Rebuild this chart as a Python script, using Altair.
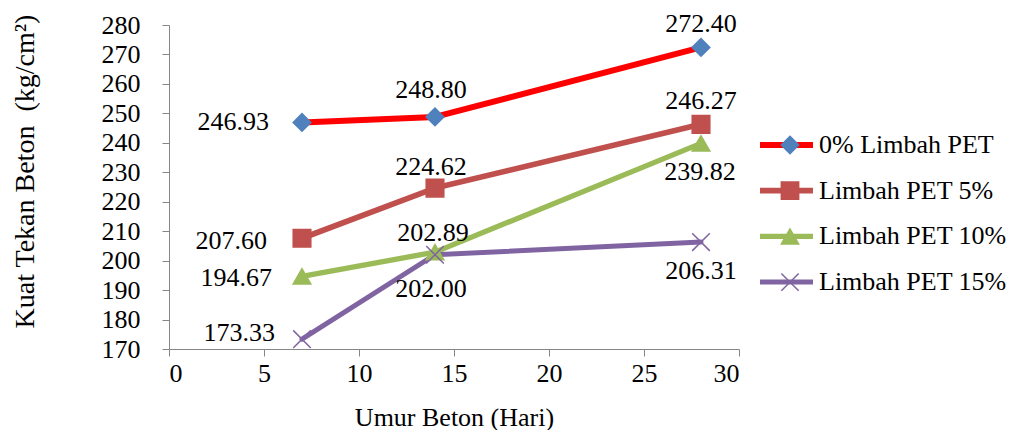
import altair as alt
import pandas as pd

# ---- data ----
days = [7, 14, 28]
series_names = ["0% Limbah PET", "Limbah PET 5%", "Limbah PET 10%", "Limbah PET 15%"]
pet_0 = [246.93, 248.80, 272.40]
pet_5 = [207.60, 224.62, 246.27]
pet_10 = [194.67, 202.89, 239.82]
pet_15 = [173.33, 202.00, 206.31]
x_ticks = [0, 5, 10, 15, 20, 25, 30]
y_ticks = [170, 180, 190, 200, 210, 220, 230, 240, 250, 260, 270, 280]

x_title = "Umur Beton (Hari)"
y_title = "Kuat Tekan Beton \u00a0(kg/cm²)"

# ---- build table ----
# marker keys are a separate categorical (legend labels for markers are hidden;
# the visible legend labels come from the line legend)
marker_keys = ["marker: " + n for n in series_names]
rows = []
for name, mkey, vals in zip(series_names, marker_keys, [pet_0, pet_5, pet_10, pet_15]):
    for d, v in zip(days, vals):
        rows.append({"series": name, "marker": mkey, "day": d, "value": v,
                     "label": f"{v:.2f}"})
df = pd.DataFrame(rows)

FONT = "Liberation Serif"
FS = 26
line_colors = ["#FF0000", "#C0504D", "#9BBB59", "#8064A2"]
marker_colors = ["#4F81BD", "#C0504D", "#9BBB59", "#8064A2"]
marker_shapes = ["diamond", "square", "triangle-up", "M-1,-1L1,1M-1,1L1,-1"]
line_widths = [6, 5, 5, 5]

x_enc = alt.X("day:Q", scale=alt.Scale(domain=[0, 30], nice=False, zero=False),
              axis=alt.Axis(values=x_ticks, title=x_title, titleY=76,
                            titleBaseline="alphabetic", labelPadding=4))
y_enc = alt.Y("value:Q", scale=alt.Scale(domain=[170, 280], nice=False, zero=False),
              axis=alt.Axis(values=y_ticks, title=y_title, titleX=-136, titleY=146,
                            titleAlign="center", titleBaseline="alphabetic",
                            titleFontSize=28, labelPadding=22))

base = alt.Chart(df).encode(x=x_enc, y=y_enc)

line_legend = alt.Legend(orient="none", legendX=588, legendY=105, title=None,
                         symbolType="stroke", symbolSize=53 * 53, symbolStrokeWidth=5,
                         labelFont=FONT, labelFontSize=FS, labelColor="black",
                         labelOffset=3, clipHeight=30, rowPadding=15.7, padding=0,
                         labelLimit=400)

lines = base.mark_line(strokeCap="round", strokeJoin="round").encode(
    color=alt.Color("series:N", scale=alt.Scale(domain=series_names, range=line_colors),
                    legend=line_legend),
    strokeWidth=alt.StrokeWidth("series:N",
                                scale=alt.Scale(domain=series_names, range=line_widths),
                                legend=None),
)

marker_legend = alt.Legend(orient="none", legendX=608, legendY=105, title=None,
                           symbolSize=300, symbolStrokeWidth=1.5,
                           labelExpr="''", labelFontSize=FS, clipHeight=30,
                           rowPadding=15.7, padding=0)

points = base.mark_point(filled=True, opacity=1, strokeWidth=1.5, size=310).encode(
    shape=alt.Shape("marker:N", scale=alt.Scale(domain=marker_keys, range=marker_shapes),
                    legend=marker_legend),
    fill=alt.Fill("marker:N", scale=alt.Scale(domain=marker_keys, range=marker_colors),
                  legend=marker_legend),
    stroke=alt.Stroke("marker:N", scale=alt.Scale(domain=marker_keys, range=marker_colors),
                      legend=marker_legend),
)

# label placement: (series index, day) -> (align, dx, dy)
placement = {
    (0, 7): ("right", -33, 0), (0, 14): ("center", -4, -27), (0, 28): ("center", 0, -23),
    (1, 7): ("right", -35, 3), (1, 14): ("center", -4, -21), (1, 28): ("center", 0, -23),
    (2, 7): ("right", -30, 2), (2, 14): ("center", -2, -19), (2, 28): ("center", -1, 29),
    (3, 7): ("right", -27, -6), (3, 14): ("center", -4, 34), (3, 28): ("center", 0, 29),
}
text_layers = []
for (si, d), (al, dx, dy) in placement.items():
    name = series_names[si]
    text_layers.append(
        base.transform_filter(
            (alt.datum.series == name) & (alt.datum.day == d)
        ).mark_text(align=al, baseline="middle", dx=dx, dy=dy, font=FONT,
                    fontSize=FS, color="black").encode(text="label:N")
    )

chart = alt.layer(lines, points, *text_layers).properties(
    width=570, height=324,
    padding={"left": 161, "top": 17, "right": 269, "bottom": 85},
    autosize=alt.AutoSizeParams(type="none"),
).configure_view(stroke=None).configure_axis(
    grid=False, domainColor="#868686", tickColor="#868686", tickSize=7,
    labelFont=FONT, labelFontSize=FS, labelColor="black",
    titleFont=FONT, titleFontSize=FS, titleColor="black", titleFontWeight="normal",
).configure_legend(padding=0)

chart.save("out.html", embed_options={"renderer": "svg", "actions": False})
